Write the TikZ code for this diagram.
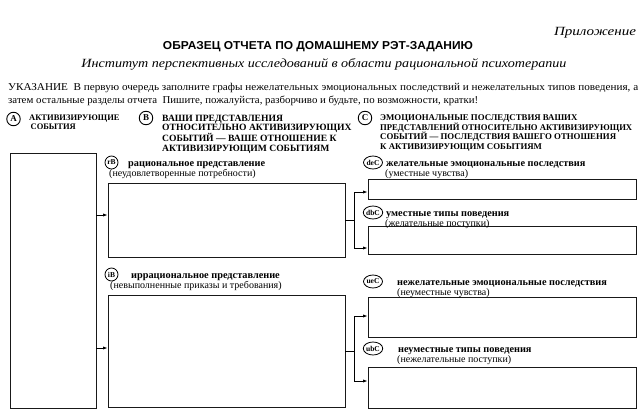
\documentclass[tikz,border=0pt]{standalone}
\usepackage{fontspec}
\usepackage{graphicx}
\setmainfont{Liberation Serif}
\newfontfamily\headsans{Liberation Sans}
\usetikzlibrary{fit,calc,arrows.meta,positioning,shapes.geometric}
\tikzset{
  slotbox/.style = {draw=black!90, line width=0.9pt, inner sep=0pt},
  tagcirc/.style = {circle, draw, line width=0.9pt, inner sep=0pt, minimum size=13.5pt,
                    font=\fontsize{9}{9}\selectfont\bfseries},
  tagoval/.style = {ellipse, draw, line width=0.8pt, inner sep=0pt,
                    minimum width=19pt, minimum height=13pt,
                    font=\fontsize{7.5}{7.5}\selectfont\bfseries},
  tagsmall/.style = {circle, draw, line width=0.8pt, inner sep=0pt, minimum size=13pt,
                    font=\fontsize{7.5}{7.5}\selectfont\bfseries},
  colhead/.style = {anchor=north west, align=left, inner sep=0pt,
                    font=\fontsize{9.6}{9.5}\selectfont\bfseries},
  sloth/.style   = {anchor=base west, inner sep=0pt, font=\fontsize{10.3}{10}\selectfont\bfseries},
  slotn/.style   = {anchor=base west, inner sep=0pt, font=\fontsize{10}{10}\selectfont},
  feed/.style    = {-{Latex[length=4.5pt,width=3.2pt]}, line width=0.8pt},
}
\newcommand{\wide}[2]{\resizebox{#1}{\height}{#2}}
\newcommand{\slotframe}[3]{%
  \coordinate (#1nw) at #2;
  \coordinate (#1se) at #3;
  \node[slotbox, fit=(#1nw)(#1se)] (#1box) {};
}
\newcommand{\slotlabel}[8]{%
  \node[#2] (#1tag) at (#3,#4-3.5) {#1};
  \node[sloth] (#1lab) at (#5,#4) {#7};
  \node[slotn] (#1note) at (#6,#4+10) {#8};
}
\begin{document}
\begin{tikzpicture}[x=1pt, y=-1pt]
  \useasboundingbox (0,0) rectangle (642,415);

  \node[font=\itshape\fontsize{12.5}{12.5}\selectfont, inner sep=0pt] (annex) at (595,33)
    {\wide{82pt}{Приложение}};
  \node[font=\headsans\bfseries\fontsize{11.5}{11.5}\selectfont, inner sep=0pt] (title) at (318,46.5)
    {\wide{310pt}{ОБРАЗЕЦ ОТЧЕТА ПО ДОМАШНЕМУ РЭТ-ЗАДАНИЮ}};
  \node[font=\itshape\fontsize{12.5}{12.5}\selectfont, inner sep=0pt] (inst) at (324,64.5)
    {\wide{485pt}{Институт перспективных исследований в области рациональной психотерапии}};
  \node[slotn, font=\fontsize{10.5}{10.5}\selectfont] (hint1) at (8,90.5)
    {\wide{630pt}{УКАЗАНИЕ\ \ В первую очередь заполните графы нежелательных эмоциональных последствий и нежелательных типов поведения, а}};
  \node[slotn, font=\fontsize{10.5}{10.5}\selectfont] (hint2) at (8,103.5)
    {\wide{470pt}{затем остальные разделы отчета\ \ Пишите, пожалуйста, разборчиво и будьте, по возможности, кратки!}};

  \node[tagcirc] (Atag) at (13.5,119) {A};
  \node[colhead, font=\fontsize{8.5}{9.5}\selectfont\bfseries] (Ahead) at (29,114.5)
    {АКТИВИЗИРУЮЩИЕ\\ \,СОБЫТИЯ};
  \node[tagcirc] (Btag) at (146,118) {B};
  \node[colhead] (Bhead) at (162,114.5)
    {ВАШИ ПРЕДСТАВЛЕНИЯ\\ ОТНОСИТЕЛЬНО АКТИВИЗИРУЮЩИХ\\ СОБЫТИЙ — ВАШЕ ОТНОШЕНИЕ К\\ АКТИВИЗИРУЮЩИМ СОБЫТИЯМ};
  \node[tagcirc] (Ctag) at (365,118) {C};
  \node[colhead, font=\fontsize{8.8}{9.5}\selectfont\bfseries] (Chead) at (380,114.5)
    {ЭМОЦИОНАЛЬНЫЕ ПОСЛЕДСТВИЯ ВАШИХ\\ \wide{252pt}{ПРЕДСТАВЛЕНИЙ ОТНОСИТЕЛЬНО АКТИВИЗИРУЮЩИХ}\\ СОБЫТИЙ — ПОСЛЕДСТВИЯ ВАШЕГО ОТНОШЕНИЯ\\ К АКТИВИЗИРУЮЩИМ СОБЫТИЯМ};

  \slotframe{A}{(10,153)}{(96,408)}
  \slotframe{rB}{(108,183)}{(345,257)}
  \slotframe{iB}{(108,295)}{(345,407)}
  \slotframe{deC}{(368,179)}{(636,199)}
  \slotframe{dbC}{(368,226)}{(636,254)}
  \slotframe{ueC}{(368,297)}{(636,337)}
  \slotframe{ubC}{(368,367)}{(636,408)}

  \slotlabel{rB}{tagsmall}{111.5}{166}{128}{109}{рациональное представление}{(неудовлетворенные потребности)}
  \slotlabel{iB}{tagsmall}{111.5}{278}{131}{110}{иррациональное представление}{(невыполненные приказы и требования)}
  \slotlabel{deC}{tagoval}{373}{166}{386}{385}{желательные эмоциональные последствия}{(уместные чувства)}
  \slotlabel{dbC}{tagoval}{373}{216}{386}{385}{уместные типы поведения}{(желательные поступки)}
  \slotlabel{ueC}{tagoval}{373}{285}{397}{397}{нежелательные эмоциональные последствия}{(неуместные чувства)}
  \slotlabel{ubC}{tagoval}{373}{352}{398}{397}{неуместные типы поведения}{(нежелательные поступки)}

  \coordinate (rBin) at ([yshift=5pt]rBbox.west);
  \coordinate (iBin) at ([yshift=3pt]iBbox.west);
  \draw[feed] (Abox.east |- rBin) -- (rBin);
  \draw[feed] (Abox.east |- iBin) -- (iBin);

  \coordinate (rBsplit) at ($(rBbox.east)+(9,0)$);
  \coordinate (iBsplit) at ($(iBbox.east)+(9,0)$);
  \coordinate (deCin) at ([yshift=-3pt]deCbox.west);
  \coordinate (dbCin) at ([yshift=-8pt]dbCbox.west);
  \coordinate (ueCin) at ([yshift=1pt]ueCbox.west);
  \coordinate (ubCin) at ([yshift=6.5pt]ubCbox.west);
  \draw[line width=0.8pt] (rBbox.east) -- (rBsplit);
  \draw[feed] (rBsplit) |- (deCin);
  \draw[feed] (rBsplit) |- (dbCin);
  \draw[line width=0.8pt] (iBbox.east) -- (iBsplit);
  \draw[feed] (iBsplit) |- (ueCin);
  \draw[feed] (iBsplit) |- (ubCin);
\end{tikzpicture}
\end{document}
